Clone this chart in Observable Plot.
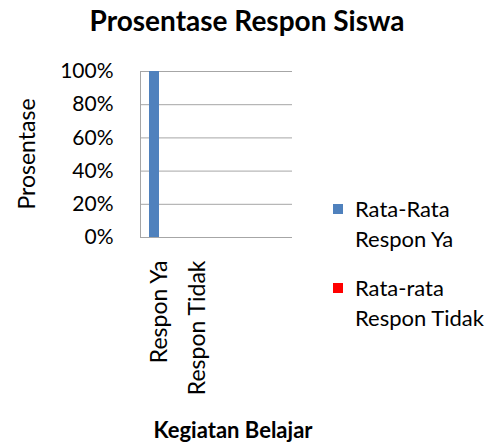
<!DOCTYPE html>
<html>
<head>
<meta charset="utf-8">
<script src="https://cdn.jsdelivr.net/npm/d3@7"></script>
<script src="https://cdn.jsdelivr.net/npm/@observablehq/plot@0.6"></script>
<style>
  html, body { margin: 0; padding: 0; background: #fff; }
  #wrap { position: relative; width: 500px; height: 445px; overflow: hidden; font-family: Lato, "Open Sans", sans-serif; color: #000; }
  #wrap svg text { fill: #000; }
  #wrap svg g[aria-label="fx-axis tick label"] { font-size: 23px; }
  .abs { position: absolute; white-space: nowrap; }
  #title { left: 0; width: 494px; top: 3px; text-align: center; font-size: 28px; font-weight: bold; }
  #ytitle { left: 26px; top: 154px; font-size: 23px; transform: translate(-50%, -50%) rotate(-90deg); }
  #xtitle { left: 233px; top: 417px; font-size: 22px; line-height: 26px; font-weight: bold; transform: translateX(-50%); }
  .leg { left: 333px; font-size: 22px; line-height: 30px; }
  .sw { position: absolute; left: 0; width: 10px; height: 10px; }
  .lt { position: absolute; left: 22px; top: 0; }
</style>
</head>
<body>
<div id="wrap">
  <div id="chart"></div>
  <div id="title" class="abs"></div>
  <div id="ytitle" class="abs"></div>
  <div id="xtitle" class="abs"></div>
  <div id="legend"></div>
</div>
<script>
const categories = ["Respon Ya", "Respon Tidak", "c3", "c4"];
const categoryLabels = ["Respon Ya", "Respon Tidak", "", ""];
const seriesNames = ["Rata-Rata Respon Ya", "Rata-rata Respon Tidak"];
const seriesLegendLines = [["Rata-Rata", "Respon Ya"], ["Rata-rata", "Respon Tidak"]];
const seriesColors = ["#4F81BD", "#FF0000"];
const valuesYa = [1.0, 0, 0, 0];
const valuesTidak = [0, 0, 0, 0];
const yTicks = [0, 0.2, 0.4, 0.6, 0.8, 1.0];
const titleText = "Prosentase Respon Siswa";
const yTitleText = "Prosentase";
const xTitleText = "Kegiatan Belajar";

const data = [];
categories.forEach((c, i) => {
  data.push({category: c, series: seriesNames[0], value: valuesYa[i]});
  data.push({category: c, series: seriesNames[1], value: valuesTidak[i]});
});
const labelOf = Object.fromEntries(categories.map((c, i) => [c, categoryLabels[i]]));

const chart = Plot.plot({
  width: 500,
  height: 445,
  marginLeft: 139,
  marginRight: 207,
  marginTop: 71,
  marginBottom: 208,
  style: {fontFamily: "Lato, 'Open Sans', sans-serif", fontSize: "21px", color: "#a6a6a6", background: "transparent", overflow: "visible"},
  fx: {domain: categories, padding: 0, tickSize: 0, tickPadding: 23, tickRotate: -90, tickFormat: d => labelOf[d], label: null},
  x: {domain: seriesNames, paddingInner: 0, paddingOuter: 0.75, axis: null},
  y: {domain: [0, 1], ticks: yTicks, tickFormat: d3.format(".0%"), tickSize: 0, tickPadding: 27, label: null, line: true},
  color: {domain: seriesNames, range: seriesColors},
  marks: [
    Plot.ruleY(yTicks, {stroke: "#a6a6a6", strokeWidth: 1}),
    Plot.barY(data, {fx: "category", x: "series", y: "value", fill: "series", inset: 0})
  ]
});
document.getElementById("chart").appendChild(chart);

document.getElementById("title").textContent = titleText;
document.getElementById("ytitle").textContent = yTitleText;
document.getElementById("xtitle").textContent = xTitleText;

const legend = document.getElementById("legend");
const legTops = [194, 273];
seriesNames.forEach((s, i) => {
  const item = document.createElement("div");
  item.className = "abs leg";
  item.style.top = legTops[i] + "px";
  const sw = document.createElement("div");
  sw.className = "sw";
  sw.style.background = seriesColors[i];
  sw.style.top = "10px";
  item.appendChild(sw);
  const t = document.createElement("div");
  t.className = "lt";
  t.innerHTML = seriesLegendLines[i].join("<br>");
  item.appendChild(t);
  legend.appendChild(item);
});
</script>
</body>
</html>
